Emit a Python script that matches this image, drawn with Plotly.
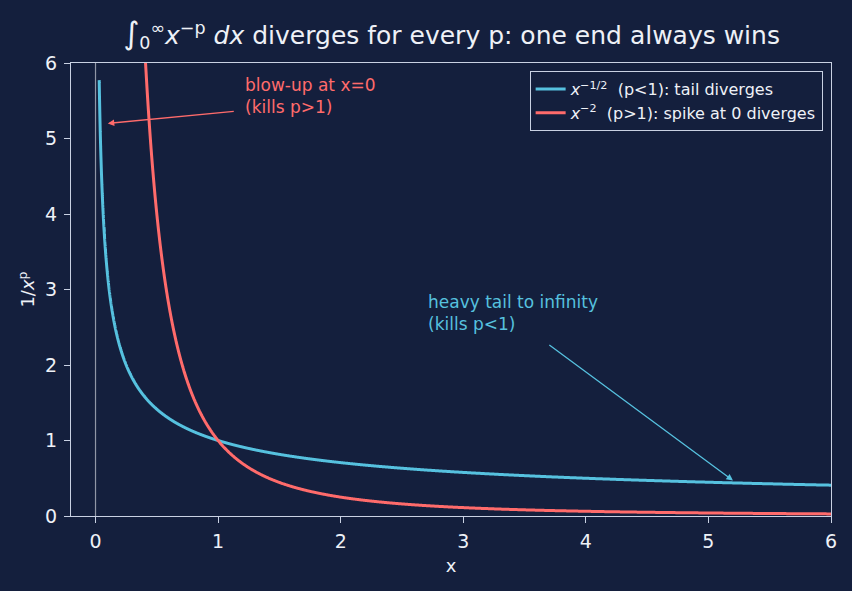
import numpy as np
import plotly.graph_objects as go

# Data
p_values = [0.5, 2.0]
series_names = [
    "<i>x</i><sup>−1/2</sup>  (p&lt;1): tail diverges",
    "<i>x</i><sup>−2</sup>  (p&gt;1): spike at 0 diverges",
]
series_colors = ["#56c1df", "#ff6b6b"]
x_start, x_end, n_pts = 0.03, 6.0, 3000
x_ticks = [0, 1, 2, 3, 4, 5, 6]
y_ticks = [0, 1, 2, 3, 4, 5, 6]

BG = "#141f3d"
FG = "#eef1f7"
SPINE = "#c9d1e3"

x = np.geomspace(x_start, x_end, n_pts)

fig = go.Figure()
for p, name, col in zip(p_values, series_names, series_colors):
    fig.add_trace(go.Scatter(x=x, y=x ** (-p), mode="lines", name=name,
                             line=dict(color=col, width=3, simplify=False)))

fig.add_shape(type="line", x0=0, x1=0, y0=0, y1=1, xref="x", yref="paper",
              line=dict(color="#9096a6", width=1.2), layer="below")

# annotations: arrows
fig.add_annotation(x=0.1, y=5.2, ax=1.14, ay=5.36, xref="x", yref="y",
                   axref="x", ayref="y", text="", showarrow=True,
                   arrowhead=2, arrowsize=1, arrowwidth=1.3, arrowcolor="#ff6b6b")
fig.add_annotation(x=1.2, y=5.26, xref="x", yref="y", xanchor="left", yanchor="bottom",
                   text="blow-up at x=0<br>(kills p&gt;1)", showarrow=False, align="left",
                   font=dict(color="#ff6b6b", size=17))
fig.add_annotation(x=5.2, y=0.47, ax=3.69, ay=2.28, xref="x", yref="y",
                   axref="x", ayref="y", text="", showarrow=True,
                   arrowhead=2, arrowsize=1, arrowwidth=1.3, arrowcolor="#56c1df")
fig.add_annotation(x=2.7, y=2.38, xref="x", yref="y", xanchor="left", yanchor="bottom",
                   text="heavy tail to infinity<br>(kills p&lt;1)", showarrow=False, align="left",
                   font=dict(color="#56c1df", size=17))

fig.update_layout(
    width=852, height=591,
    margin=dict(l=71, r=21, t=63, b=75),
    paper_bgcolor=BG, plot_bgcolor=BG,
    font=dict(family="DejaVu Sans", color=FG, size=17),
    title=dict(text="<span style='font-size:31px'>∫</span><sub>0</sub><sup>∞</sup><i>x</i><sup>−p</sup> <i>dx</i> diverges for every p: one end always wins",
               x=0.53, xanchor="center", y=0.94, yanchor="middle",
               font=dict(size=25, color=FG)),
    showlegend=True,
    legend=dict(x=0.989, y=0.982, xanchor="right", yanchor="top",
                bgcolor=BG, bordercolor=SPINE, borderwidth=1,
                font=dict(size=16, color=FG), tracegroupgap=2),
    xaxis=dict(range=[-0.2, 6], tickvals=x_ticks, showgrid=False, zeroline=False,
               showline=True, mirror=True, linecolor=SPINE, linewidth=1.3,
               ticks="outside", ticklen=6, tickcolor=SPINE, ticklabelstandoff=2,
               title=dict(text="x", standoff=8, font=dict(size=18)), tickfont=dict(size=19)),
    yaxis=dict(range=[0, 6], tickvals=y_ticks, showgrid=False, zeroline=False,
               showline=True, mirror=True, linecolor=SPINE, linewidth=1.3,
               ticks="outside", ticklen=6, tickcolor=SPINE, ticklabelstandoff=3,
               title=dict(text="1/<i>x</i><sup>p</sup>", standoff=5, font=dict(size=18)),
               tickfont=dict(size=19)),
)

fig.write_html("out.html")
